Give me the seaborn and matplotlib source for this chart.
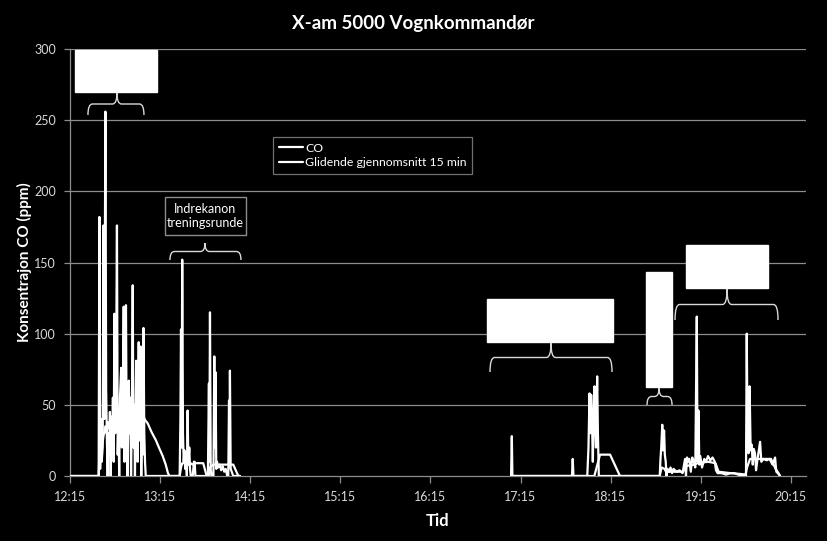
import matplotlib
matplotlib.use("Agg")
import matplotlib.pyplot as plt
from matplotlib.patches import Rectangle, PathPatch
from matplotlib.path import Path
from matplotlib.lines import Line2D
import numpy as np
import pandas as pd
import seaborn as sns

# ---------------- data (minutes after 12:15) ----------------
co_time_a = [0, 18.8, 19.3, 19.8, 20.3, 20.8, 21.5, 22.0, 22.5, 23.3, 23.8, 24.3, 24.8, 25.3, 25.8,
             26.3, 26.8, 27.3, 27.8, 28.3, 28.8, 29.3, 29.8, 30.3, 31.0, 31.5, 32.0, 32.5, 33.0,
             33.8, 34.3, 34.8, 35.5, 36.0, 36.5, 37.0, 37.5, 38.0, 38.9, 39.4, 39.9, 40.4, 40.9,
             41.5, 42.0, 42.5, 43.0, 43.8, 44.3, 44.8, 45.5, 46.0, 46.7, 47.2, 47.7, 48.2, 48.7,
             49.2, 49.7, 50.2,
             72.8, 73.3, 73.7, 74.1, 74.5, 75.0, 75.5, 76.0, 76.5, 77.0, 77.6, 78.1, 78.6, 79.2,
             79.7, 80.2, 81.5, 82.3, 82.8, 83.3, 91.6, 92.3, 92.6, 93.0, 93.5, 94.0, 95.3, 95.9,
             96.3, 96.7, 97.2, 97.7, 98.5, 99.5, 100.5, 101.5, 102.5, 103.5, 104.5, 105.2, 105.7,
             106.0, 106.3, 106.8, 107.5, 108.5, 113.0]
co_val_a = [0, 0, 182, 5, 40, 10, 20, 176, 40, 256, 60, 25, 0, 30, 15,
            45, 0, 35, 20, 55, 10, 114, 30, 50, 176, 15, 40, 0, 55,
            76, 20, 45, 119, 10, 60, 120, 25, 0, 67, 30, 55, 0, 40,
            134, 20, 50, 0, 81, 35, 10, 94, 25, 91, 0, 40, 15, 104,
            30, 10, 0,
            0, 40, 103, 20, 152, 30, 10, 18, 5, 12, 0, 46, 8, 20,
            5, 0, 0, 10, 10, 0, 0, 65, 10, 115, 5, 0, 0, 84,
            20, 73, 5, 10, 6, 8, 4, 7, 3, 5, 0, 0, 53,
            15, 74, 5, 3, 0, 0]

co_time_b = [293.7, 294.2, 294.6, 334.3, 334.8, 335.3, 344.5, 345.3, 346.0, 346.5, 347.1, 347.6,
             348.2, 348.8, 349.3, 349.8, 350.3, 351.1, 351.6, 352.2, 392.8, 393.3, 393.8, 394.5,
             395.0, 395.7, 396.2, 396.8, 397.3, 398.0, 399.0, 400.0, 401.0, 402.0, 404.0, 406.0,
             408.0, 409.7, 410.3, 411.0, 411.5, 412.5, 413.5, 414.5, 415.5, 416.5, 417.5, 418.0,
             418.6, 419.2, 419.8, 421.0, 422.5, 423.6, 425.0, 426.5, 428.0, 429.5, 430.3, 431.4,
             434.0, 437.0, 440.0, 442.5, 445.0, 448.0, 450.3, 450.8, 451.3, 452.0, 452.7, 453.4,
             454.1, 454.8, 455.5, 456.3, 457.0, 458.0, 459.7, 460.5, 462.0, 464.0, 466.0, 468.0,
             469.7, 470.5, 471.5, 473.0]
co_val_b = [0, 28, 0, 0, 12, 0, 0, 20, 58, 30, 57, 40,
            10, 45, 63, 35, 20, 70, 30, 0, 0, 12, 20, 36,
            18, 32, 15, 10, 0, 5, 3, 6, 2, 5, 3, 4,
            2, 12, 0, 13, 10, 12, 3, 13, 10, 6, 112, 10,
            46, 8, 14, 6, 12, 10, 14, 11, 13, 10, 4, 2,
            2, 1, 2, 2, 1, 0, 0, 100, 30, 16, 63, 18,
            22, 8, 19, 16, 4, 12, 24, 10, 12, 11, 12, 8,
            13, 3, 2, 0]

ma_time_a = [0, 18.8, 19.3, 20, 21, 22, 23.3, 24, 25, 26, 27, 28, 29, 30, 31, 32, 33, 34, 35, 36,
             37, 38, 39, 40, 41, 42, 43, 44, 45, 46, 47, 48, 49, 50, 51.5, 54, 57, 59, 61.5,
             63.5, 65, 66, 72.8, 73.7, 74.5, 80, 81.5, 82.5, 88.5, 90.8, 92.3, 93.0, 95.2,
             108.5, 111.9, 113.0]
ma_val_a = [0, 0, 15, 22, 20, 28, 35, 30, 38, 33, 42, 36, 45, 40, 50, 44, 48, 42, 50, 45,
            52, 46, 49, 44, 50, 45, 48, 42, 46, 43, 44, 42, 41, 39, 37, 31, 25, 20, 14,
            8, 2, 0, 0, 6, 9, 9, 8, 9, 9, 0, 0, 6, 8,
            8, 0, 0]

ma_time_b = [293.7, 349.2, 353.0, 359.7, 366.3, 392.8, 394.0, 396.0, 397.0, 408.5, 410.0, 416.0,
             418.0, 425.0, 430.0, 432.0, 440.0, 446.0, 450.0, 451.0, 453.0, 463.0, 467.0, 470.0,
             472.0, 473.0]
ma_val_b = [0, 0, 15, 15, 0, 0, 6, 5, 3, 3, 7, 8,
            9, 10, 9, 3, 2, 1.5, 1, 6, 12, 12, 12, 5,
            2, 0]

series_names = ["CO", "Glidende gjennomsnitt 15 min"]
tick_minutes = [0, 60, 120, 180, 240, 300, 360, 420, 480]
tick_labels = ["12:15", "13:15", "14:15", "15:15", "16:15", "17:15", "18:15", "19:15", "20:15"]
y_ticks = [0, 50, 100, 150, 200, 250, 300]

title = "X-am 5000 Vognkommandør"
x_label = "Tid"
y_label = "Konsentrajon CO (ppm)"
box_text = "Indrekanon\ntreningsrunde"

# ---------------- build frame ----------------
frames = []
for name, seg, t, v in [(series_names[0], "a", co_time_a, co_val_a),
                        (series_names[0], "b", co_time_b, co_val_b),
                        (series_names[1], "a", ma_time_a, ma_val_a),
                        (series_names[1], "b", ma_time_b, ma_val_b)]:
    frames.append(pd.DataFrame({"time": t, "value": v, "series": name, "segment": seg}))
df = pd.concat(frames, ignore_index=True)

# ---------------- style ----------------
sns.set_theme(style="dark")
plt.rcParams["font.family"] = ["Lato", "DejaVu Sans"]
grid_c = "#8c8c8c"
text_c = "#d9d9d9"

fig = plt.figure(figsize=(8.27, 5.41), dpi=100, facecolor="black")
ax = fig.add_axes([70 / 827, 65 / 541, 736 / 827, 427 / 541])
ax.set_facecolor("black")

for y in y_ticks[1:]:
    ax.axhline(y, color=grid_c, lw=0.9, zorder=1)

sns.lineplot(data=df, x="time", y="value", hue="series", units="segment", estimator=None,
             palette={series_names[0]: "white", series_names[1]: "white"},
             lw=1.6, sort=False, ax=ax, legend=False, zorder=3)

ax.set_xlim(-0.3, 490.3)
ax.set_ylim(0, 300)
ax.set_xticks(tick_minutes)
ax.set_xticklabels(tick_labels)
ax.set_yticks(y_ticks)
ax.tick_params(axis="both", colors=grid_c, labelcolor=text_c, labelsize=9,
               direction="out", length=5, width=0.9, bottom=True, left=True)
ax.tick_params(axis="x", pad=6)
ax.tick_params(axis="y", pad=6, length=4)
for s in ["top", "right"]:
    ax.spines[s].set_visible(False)
for s in ["left", "bottom"]:
    ax.spines[s].set_color(grid_c)
    ax.spines[s].set_linewidth(0.9)
ax.grid(False)

ax.set_xlabel(x_label, color="white", fontsize=12, fontweight="bold", labelpad=7)
ax.set_ylabel(y_label, color="white", fontsize=11, fontweight="bold", labelpad=2)
fig.text(0.5, 1 - 24 / 541, title, color="white", fontsize=13.5, fontweight="bold",
         ha="center", va="center")

# ---------------- annotations ----------------
def px2d(px, py):
    return (px - 70.5) / 1.5, (476 - py) / (427 / 300)

def box(x0, y0, x1, y1, face, edge):
    (dx0, dy0), (dx1, dy1) = px2d(x0, y1), px2d(x1, y0)
    ax.add_patch(Rectangle((dx0, dy0), dx1 - dx0, dy1 - dy0, facecolor=face,
                           edgecolor=edge, lw=1.0, zorder=5))

def brace(x0, x1, ytop, ybot, xtip):
    (a, yt), (b, yb) = px2d(x0, ytop), px2d(x1, ybot)
    tip, _ = px2d(xtip, ytop)
    ym = yb + 0.5 * (yt - yb)
    r = 3.0
    verts = [(a, yb), (a, ym), (a + r, ym), (tip - r, ym), (tip, ym), (tip, yt),
             (tip, ym), (tip + r, ym), (b - r, ym), (b, ym), (b, yb)]
    codes = [Path.MOVETO, Path.CURVE3, Path.CURVE3, Path.LINETO, Path.CURVE3, Path.CURVE3,
             Path.CURVE3, Path.CURVE3, Path.LINETO, Path.CURVE3, Path.CURVE3]
    ax.add_patch(PathPatch(Path(verts, codes), facecolor="none", edgecolor=text_c,
                           lw=1.0, zorder=5))

box(75, 50, 157, 92, "white", "white")
brace(88, 144, 93, 115, 117)

box(165, 197, 246, 235, "black", grid_c)
cx, cy = px2d(205.5, 216)
ax.text(cx, cy, box_text, color="white", fontsize=9, ha="center", va="center",
        linespacing=1.2, zorder=6)
brace(170, 241, 243, 260, 205)

box(487, 299, 613, 342, "white", "white")
brace(490, 612, 343, 372, 551)

box(646, 272, 672, 387, "white", "white")
brace(647, 672, 388, 405, 659)

box(686, 245, 768, 288, "white", "white")
brace(675, 778, 289, 320, 727)

handles = [Line2D([], [], color="white", lw=1.6) for _ in series_names]
leg = ax.legend(handles, series_names, loc="upper left",
                bbox_to_anchor=((273 - 70) / 736, (476 - 137) / 427),
                fontsize=8.8, frameon=True, facecolor="black", edgecolor=grid_c,
                handlelength=2.0, handletextpad=0.2, borderpad=0.45, labelspacing=0.3,
                fancybox=False, labelcolor="white", borderaxespad=0)
leg.get_frame().set_linewidth(0.9)
leg.set_zorder(6)

fig.savefig("out.png", dpi=100, facecolor="black")
